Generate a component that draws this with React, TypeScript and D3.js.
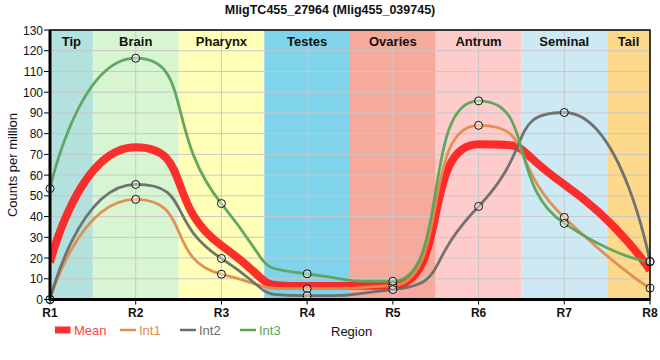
import React from "react";
import * as d3 from "d3";

const title = "MligTC455_27964 (Mlig455_039745)";
const regions = ["R1", "R2", "R3", "R4", "R5", "R6", "R7", "R8"];
const bandNames = ["Tip", "Brain", "Pharynx", "Testes", "Ovaries", "Antrum", "Seminal", "Tail"];
const bandColors = ["#b3e1dd", "#d6f5d0", "#ffffb8", "#7fd3ea", "#f5aa9c", "#ffcccc", "#cdeaf4", "#fdd98b"];
const int1 = [0, 48.3, 12.2, 5.2, 6.7, 84, 39.6, 5.5];
const int2 = [0, 55.5, 19.8, 1.9, 4.8, 44.9, 90.2, 18.2];
const int3 = [53.5, 116.4, 46.3, 12.4, 8.8, 95.8, 36.7, 18.4];
const mean = [17.8, 73.4, 26.1, 6.5, 6.8, 74.9, 55.5, 14.0];
const yTicks = [0, 10, 20, 30, 40, 50, 60, 70, 80, 90, 100, 110, 120, 130];

const series = [
  { name: "Int1", values: int1, color: "#e08c4c", width: 2.8 },
  { name: "Int2", values: int2, color: "#6b6b6b", width: 2.8 },
  { name: "Int3", values: int3, color: "#5ba35b", width: 2.8 },
];

const W = 660, H = 360;
const left = 50, right = 650, top = 30, bottom = 299.5;
const font = "'Liberation Sans', Arial, sans-serif";

// Cardinal-style spline (long handles) with clamping that prevents false extremes.
function clampedSpline(context: any) {
  let pts: [number, number][] = [];
  const k = 1 / 3;
  return {
    areaStart() {},
    areaEnd() {},
    lineStart() {
      pts = [];
    },
    point(x: number, y: number) {
      pts.push([+x, +y]);
    },
    lineEnd() {
      const n = pts.length;
      if (!n) return;
      const lc: [number, number][] = [];
      const rc: [number, number][] = [];
      for (let i = 0; i < n; i++) {
        const [x1, y1] = pts[i];
        if (i === 0 || i === n - 1) {
          lc.push([x1, y1]);
          rc.push([x1, y1]);
          continue;
        }
        const [x0, y0] = pts[i - 1];
        const [x2, y2] = pts[i + 1];
        const lx = x1 - k * (x2 - x0);
        const rx = x1 + k * (x2 - x0);
        let ly = y1 - k * (y2 - y0);
        let ry = y1 + k * (y2 - y0);
        if (ly > y0 && ly > y1) {
          ly = Math.max(y0, y1);
          ry = 2 * y1 - ly;
        } else if (ly < y0 && ly < y1) {
          ly = Math.min(y0, y1);
          ry = 2 * y1 - ly;
        }
        if (ry > y2 && ry > y1) {
          ry = Math.max(y2, y1);
          ly = 2 * y1 - ry;
        } else if (ry < y2 && ry < y1) {
          ry = Math.min(y2, y1);
          ly = 2 * y1 - ry;
        }
        lc.push([lx, ly]);
        rc.push([rx, ry]);
      }
      context.moveTo(pts[0][0], pts[0][1]);
      for (let i = 1; i < n; i++) {
        context.bezierCurveTo(rc[i - 1][0], rc[i - 1][1], lc[i][0], lc[i][1], pts[i][0], pts[i][1]);
      }
    },
  };
}

export default function App() {
  const x = d3.scalePoint<string>().domain(regions).range([left, right]);
  const y = d3.scaleLinear().domain([0, 130]).range([bottom, top]);
  const step = x.step();
  const line = d3
    .line<number>()
    .x((_, i) => x(regions[i]) as number)
    .y((d) => y(d))
    .curve(clampedSpline as any);

  return (
    <svg width={W} height={H} style={{ position: "absolute", left: 0, top: 0 }} fontFamily={font}>
      <defs>
        <clipPath id="plot">
          <rect x={left} y={top} width={right - left} height={bottom - top} />
        </clipPath>
      </defs>
      {bandNames.map((b, i) => {
        const cx = x(regions[i]) as number;
        const x0 = Math.max(left, cx - step / 2);
        const x1 = Math.min(right, cx + step / 2);
        return <rect key={b} x={x0} y={top} width={x1 - x0} height={bottom - top} fill={bandColors[i]} />;
      })}
      {yTicks.map((t) => (
        <line key={t} x1={left} x2={right} y1={y(t)} y2={y(t)} stroke="#c8c8c8" strokeWidth={1} />
      ))}
      {regions.map((r) => (
        <line key={r} x1={x(r)} x2={x(r)} y1={top} y2={bottom} stroke="#c8c8c8" strokeWidth={1} />
      ))}
      {bandNames.map((b, i) => {
        const cx = x(regions[i]) as number;
        const x0 = Math.max(left, cx - step / 2);
        const x1 = Math.min(right, cx + step / 2);
        return (
          <text key={b} x={(x0 + x1) / 2} y={46} textAnchor="middle" fontSize={13} fontWeight="bold" fill="#111">
            {b}
          </text>
        );
      })}
      <g clipPath="url(#plot)">
        <path d={line(mean) || ""} fill="none" stroke="#ff1a1a" strokeOpacity={0.9} strokeWidth={8} />
        {series.map((s) => (
          <path key={s.name} d={line(s.values) || ""} fill="none" stroke={s.color} strokeOpacity={0.95} strokeWidth={s.width} />
        ))}
      </g>
      {series.map((s) =>
        s.values.map((v, i) => (
          <circle key={s.name + i} cx={x(regions[i])} cy={y(v)} r={4} fill="#ffffff" fillOpacity={0.4} stroke="#111" strokeWidth={1} />
        ))
      )}
      <rect x={left} y={top} width={right - left} height={bottom - top} fill="none" stroke="#000" strokeWidth={1.5} />
      <line x1={left} x2={left} y1={top} y2={bottom + 1} stroke="#000" strokeWidth={3} />
      <line x1={left} x2={right} y1={bottom} y2={bottom} stroke="#000" strokeWidth={3} />
      {yTicks.map((t) => (
        <g key={t}>
          <line x1={left - 6} x2={left} y1={y(t)} y2={y(t)} stroke="#000" strokeWidth={1} />
          <text x={left - 7} y={y(t) + 4.5} textAnchor="end" fontSize={12} fill="#111">
            {t}
          </text>
        </g>
      ))}
      {regions.map((r) => (
        <g key={r}>
          <line x1={x(r)} x2={x(r)} y1={bottom} y2={bottom + 5} stroke="#000" strokeWidth={1} />
          <text x={x(r)} y={317} textAnchor="middle" fontSize={12} fontWeight="bold" fill="#111">
            {r}
          </text>
        </g>
      ))}
      <text x={17} y={165} transform="rotate(-90 17 165)" textAnchor="middle" fontSize={13} fill="#111">
        Counts per million
      </text>
      <text x={330} y={14} textAnchor="middle" fontSize={12.5} fontWeight="bold" fill="#111">
        {title}
      </text>
      <g>
        <rect x={55} y={326.5} width={15.5} height={7} fill="#ff3030" />
        <text x={74} y={335} fontSize={13} fill="#ff4040">Mean</text>
        {series.map((s, i) => (
          <g key={s.name}>
            <line x1={120 + i * 60} x2={136 + i * 60} y1={330} y2={330} stroke={s.color} strokeWidth={2.5} />
            <text x={139 + i * 60} y={335} fontSize={13} fill={s.color}>{s.name}</text>
          </g>
        ))}
        <text x={331} y={336} fontSize={13} fill="#111">Region</text>
      </g>
    </svg>
  );
}
